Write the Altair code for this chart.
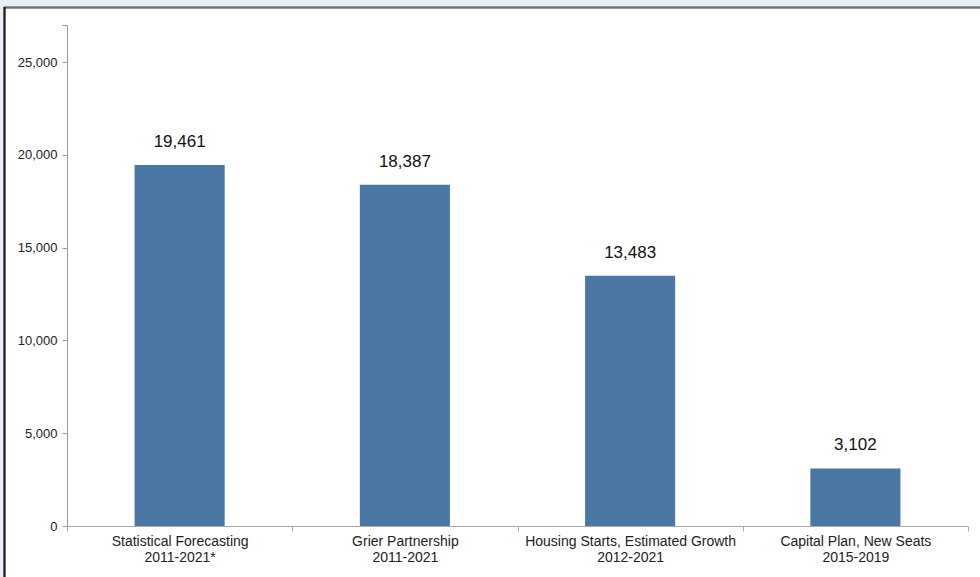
import altair as alt
import pandas as pd

categories = [
    "Statistical Forecasting|2011-2021*",
    "Grier Partnership|2011-2021",
    "Housing Starts, Estimated Growth|2012-2021",
    "Capital Plan, New Seats|2015-2019",
]
values = [19461, 18387, 13483, 3102]
y_ticks = [0, 5000, 10000, 15000, 20000, 25000, 27000]

df = pd.DataFrame({"cat": categories, "value": values})
FONT = "Liberation Sans"

x_enc = alt.X(
    "cat:N",
    sort=categories,
    scale=alt.Scale(paddingInner=0, paddingOuter=0),
    axis=alt.Axis(
        title=None,
        labelAngle=0,
        labelExpr="split(datum.label, '|')",
        labelFont=FONT,
        labelFontSize=14,
        labelColor="#222222",
        labelLineHeight=16,
        labelPadding=3,
        labelLimit=400,
        tickBand="extent",
        tickSize=5,
        tickColor="#aaaaaa",
        domainColor="#aaaaaa",
        grid=False,
    ),
)
y_enc = alt.Y(
    "value:Q",
    scale=alt.Scale(domain=[0, 27000], nice=False),
    axis=alt.Axis(
        title=None,
        values=y_ticks,
        labelExpr="datum.value == 27000 ? '' : format(datum.value, ',')",
        labelFont=FONT,
        labelFontSize=13,
        labelColor="#222222",
        labelPadding=5,
        tickSize=5,
        tickColor="#999999",
        domainColor="#999999",
        grid=False,
    ),
)

base = alt.Chart(df)
bars = base.mark_bar(color="#4a77a3", width=alt.RelativeBandSize(0.4)).encode(x=x_enc, y=y_enc)
labels = base.mark_text(
    font=FONT, fontSize=17, color="#111111", baseline="alphabetic", dy=-18
).encode(x=alt.X("cat:N", sort=categories), y="value:Q", text=alt.Text("value:Q", format=","))

strip_top = base.mark_rect(color="#e7eef6").encode(
    x=alt.value(-67), x2=alt.value(913), y=alt.value(-25), y2=alt.value(-18)
)
strip_left = base.mark_rect(color="#e7eef6").encode(
    x=alt.value(-67), x2=alt.value(-63), y=alt.value(-25), y2=alt.value(552)
)
line_top = base.mark_rule(color="#6e6e6e", strokeWidth=1.5).encode(
    x=alt.value(-63), x2=alt.value(913), y=alt.value(-17.5)
)
line_left = base.mark_rule(color="#222222", strokeWidth=1.5).encode(
    x=alt.value(-62.5), y=alt.value(-18), y2=alt.value(552)
)

chart = alt.layer(strip_top, strip_left, line_top, line_left, bars, labels).properties(
    width=901,
    height=501,
    autosize=alt.AutoSizeParams(type="none"),
    padding={"left": 67, "top": 25, "right": 12, "bottom": 51},
    background="white",
).configure_view(stroke=None)

chart.save("out.html", embed_options={"renderer": "svg", "actions": False})
